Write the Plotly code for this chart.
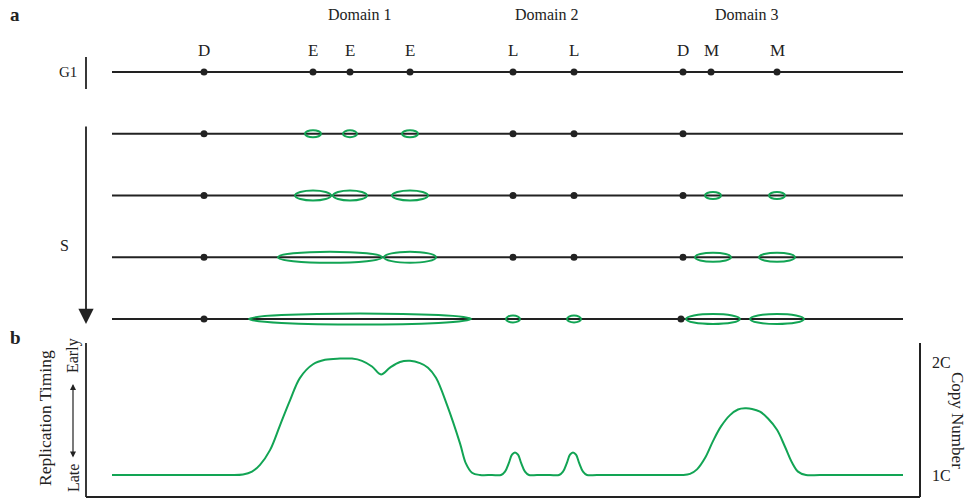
import plotly.graph_objects as go

W, H = 974, 502

# ---------------- data ----------------
site_labels = ["D", "E", "E", "E", "L", "L", "D", "M", "M"]
site_pos = [204, 313, 350, 410, 513, 574, 683, 711, 777]
domain_names = ["Domain 1", "Domain 2", "Domain 3"]
domain_centers = [360, 547, 747]
chrom_start, chrom_end = 112, 903

stages = [0, 1, 2, 3, 4]  # 0 = G1, 1..4 = progression through S
# unfired origins (dots) per S stage
dots_S = {
    1: [204, 513, 574, 683],
    2: [204, 513, 574, 683],
    3: [204, 513, 574, 683],
    4: [204, 681],
}
# replication bubbles per S stage: centers, half-widths, half-heights
bubble_centers = {
    1: [313, 350, 410],
    2: [313, 350, 410, 713, 777],
    3: [330, 410, 713, 777],
    4: [360, 513, 574, 713, 777],
}
bubble_halfw = {
    1: [8, 7, 8],
    2: [18, 17, 18, 8, 8],
    3: [52, 26, 18, 18],
    4: [111, 7, 7, 27, 27],
}
bubble_halfh = {
    1: [3.5, 3.5, 3.5],
    2: [5, 5, 5, 3.5, 3.5],
    3: [5.5, 5.5, 4.5, 4.5],
    4: [5.5, 3.5, 3.5, 5, 5],
}

# replication timing / copy number profile
profile_x = [112, 180, 230, 243, 252, 260, 270, 280, 290, 300, 313, 325, 340, 352, 362, 372, 381,
             390, 400, 410, 420, 428, 436, 447, 460, 466, 472, 480, 492,
             501, 505, 509, 512, 515, 518, 521, 525, 529, 537, 550,
             559, 563, 567, 570, 573, 576, 579, 583, 587, 597, 630, 670,
             682, 690, 697, 705, 713, 721, 730, 738, 745, 752, 760, 768, 777, 785, 792, 798,
             806, 820, 860, 903]
profile_cn = [1.0, 1.0, 1.0, 1.005, 1.03, 1.09, 1.22, 1.44, 1.66, 1.86, 1.98, 2.02, 2.03, 2.03,
              2.01, 1.96, 1.89,
              1.95, 2.0, 2.01, 1.99, 1.95, 1.86, 1.62, 1.28, 1.1, 1.02, 1.0, 1.0,
              1.0, 1.03, 1.11, 1.18, 1.2, 1.18, 1.11, 1.03, 1.0, 1.0, 1.0,
              1.0, 1.03, 1.11, 1.18, 1.2, 1.18, 1.11, 1.03, 1.0, 1.0, 1.0, 1.0,
              1.0, 1.01, 1.05, 1.15, 1.3, 1.43, 1.53, 1.58, 1.59, 1.585, 1.56, 1.5, 1.4, 1.25,
              1.11, 1.03, 1.0, 1.0, 1.0, 1.0]
cn_ticks = [1, 2]
cn_ticktext = ["1C", "2C"]

# ---------------- style ----------------
BLACK = "#222222"
GREEN = "#12a454"
FONT = "Liberation Serif"

# stage axis: stage 0 at pixel 72, 61.75 px per stage
STEP = 61.75
Y0PX = 72
y_top = -Y0PX / STEP
y_bot = (H - Y0PX) / STEP


def px(x):
    return x / W


def py(y):
    return 1 - y / H


fig = go.Figure()

# chromosome lines
for s in stages:
    fig.add_trace(go.Scatter(x=[chrom_start, chrom_end], y=[s, s], mode="lines",
                             line=dict(color=BLACK, width=1.8), hoverinfo="skip",
                             showlegend=False))

# G1 dots
fig.add_trace(go.Scatter(x=site_pos, y=[0] * len(site_pos), mode="markers",
                         marker=dict(color=BLACK, size=7), showlegend=False))
# S dots
for s, xs in dots_S.items():
    fig.add_trace(go.Scatter(x=xs, y=[s] * len(xs), mode="markers",
                             marker=dict(color=BLACK, size=7), showlegend=False))

shapes = []
# bubbles
for s in bubble_centers:
    for c, hw, hhp in zip(bubble_centers[s], bubble_halfw[s], bubble_halfh[s]):
        hh = hhp / STEP
        shapes.append(dict(type="circle", xref="x", yref="y",
                           x0=c - hw, x1=c + hw, y0=s - hh, y1=s + hh,
                           line=dict(color=GREEN, width=2)))

# G1 bar
shapes.append(dict(type="line", xref="x", yref="paper", x0=86, x1=86,
                   y0=py(57), y1=py(89), line=dict(color=BLACK, width=1.8)))
# panel b frame
shapes.append(dict(type="line", xref="x", yref="paper", x0=86, x1=86,
                   y0=py(343), y1=py(497), line=dict(color=BLACK, width=1.8)))
shapes.append(dict(type="line", xref="x", yref="paper", x0=86, x1=920,
                   y0=py(497), y1=py(497), line=dict(color=BLACK, width=1.8)))

# profile curve
fig.add_trace(go.Scatter(x=profile_x, y=profile_cn, yaxis="y2", mode="lines",
                         line=dict(color=GREEN, width=2, shape="spline", smoothing=1.0),
                         showlegend=False))


def txt(text, x, y, size, angle=0, xref="paper"):
    return dict(text=text, x=x, y=y, xref=xref, yref="paper", xanchor="center",
                yanchor="middle", showarrow=False, textangle=angle,
                font=dict(size=size))


ann = []
ann.append(txt("<b>a</b>", px(15), py(15), 19))
ann.append(txt("<b>b</b>", px(15), py(337), 19))
for name, c in zip(domain_names, domain_centers):
    ann.append(txt(name, c, py(15), 16, xref="x"))
for lab, p in zip(site_labels, site_pos):
    ann.append(txt(lab, p, py(50), 17, xref="x"))
ann.append(txt("G1", px(68), py(72), 15))
ann.append(txt("S", px(64), py(245), 16))
# S arrow
ann.append(dict(text="", x=86, y=py(324), ax=0, ay=-(324 - 125), xref="x", yref="paper",
                showarrow=True, arrowhead=2, arrowsize=1.7,
                arrowwidth=1.8, arrowcolor=BLACK, standoff=0, startstandoff=0))
# Replication timing labels
ann.append(txt("Replication Timing", px(45), py(418), 17.5, angle=-90))
ann.append(txt("Early", px(73), py(356), 16, angle=-90))
ann.append(txt("Late", px(73), py(478), 16, angle=-90))
ann.append(dict(text="", x=73, y=py(384), ax=0, ay=459 - 384, xref="x", yref="paper",
                showarrow=True, arrowhead=2, arrowside="end+start",
                arrowsize=1, arrowwidth=1.2, arrowcolor=BLACK, standoff=0, startstandoff=0))
ann.append(txt("Copy Number", px(958), py(420), 17, angle=90))

# copy number axis range so that 1C -> px 475, 2C -> px 362 within domain 343..497
ppu = 475 - 362
cn_lo = 1 - (497 - 475) / ppu
cn_hi = 2 + (362 - 343) / ppu

fig.update_layout(
    width=W, height=H, margin=dict(l=0, r=0, t=0, b=0),
    paper_bgcolor="white", plot_bgcolor="white",
    font=dict(family=FONT, color=BLACK),
    xaxis=dict(range=[0, W], visible=False, fixedrange=True),
    yaxis=dict(range=[y_bot, y_top], visible=False, domain=[0, 1]),
    yaxis2=dict(range=[cn_lo, cn_hi], domain=[py(497), py(343)], anchor="free",
                position=920 / W, side="right", showline=True, linecolor=BLACK,
                linewidth=1.8, showgrid=False, zeroline=False, tickvals=cn_ticks,
                ticktext=cn_ticktext, ticks="", ticklabelstandoff=8,
                tickfont=dict(size=16, family=FONT, color=BLACK)),
    shapes=shapes, annotations=ann, showlegend=False,
)

fig.write_html("out.html", config={"displayModeBar": False},
               post_script="document.body.style.margin='0';")
